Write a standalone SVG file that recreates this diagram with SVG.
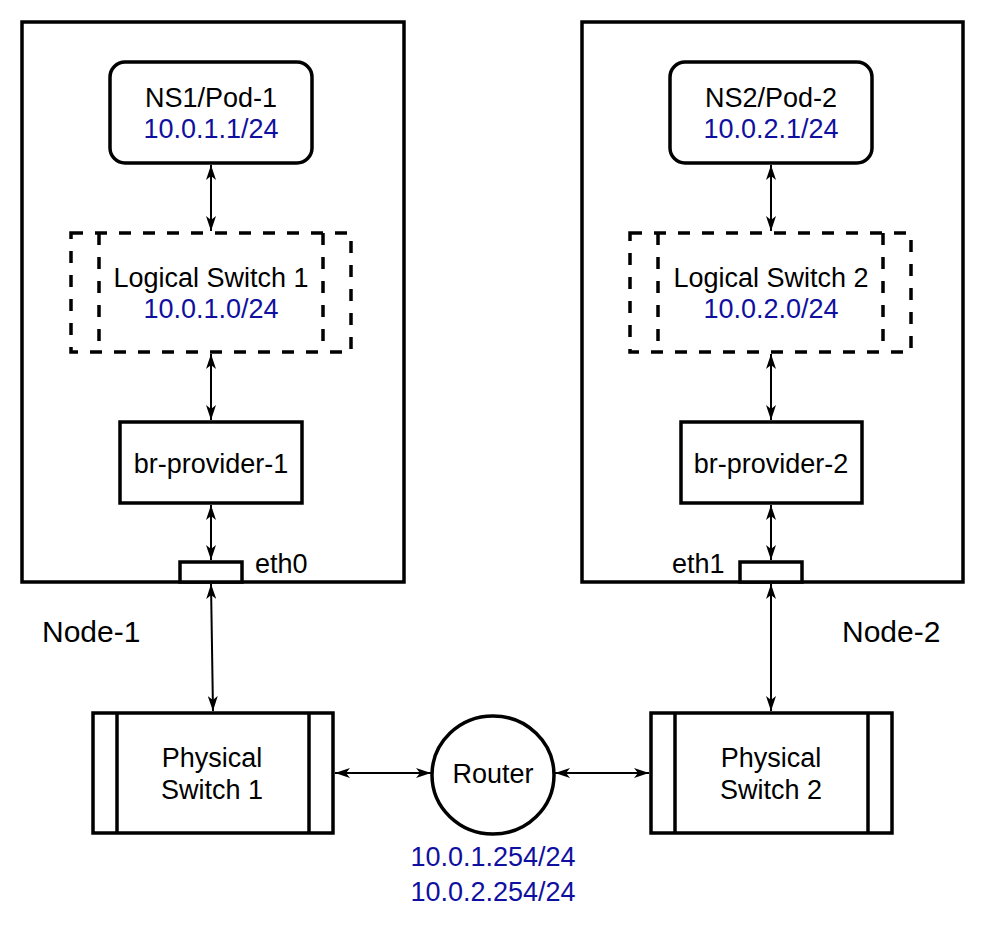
<svg xmlns="http://www.w3.org/2000/svg" width="984" height="934" viewBox="0 0 984 934">
<defs>
<style>
.box{fill:#fff;stroke:#000;stroke-width:3.5}
.frame{fill:none;stroke:#000;stroke-width:3.5}
.dash{fill:none;stroke:#000;stroke-width:3.5;stroke-dasharray:12 12}
.t{font-family:"Liberation Sans",Arial,Helvetica,sans-serif;font-size:27px;fill:#000;text-anchor:middle}
.ip{fill:#1010a0}
.lbl{font-family:"Liberation Sans",Arial,Helvetica,sans-serif;font-size:30px;fill:#000}
.eth{font-family:"Liberation Sans",Arial,Helvetica,sans-serif;font-size:27px;fill:#000}
.c{fill:none;stroke:#000;stroke-width:2;marker-start:url(#ah);marker-end:url(#ah)}
</style>
<marker id="ah" markerUnits="userSpaceOnUse" viewBox="0 0 15 10" refX="15" refY="5" markerWidth="15" markerHeight="10" orient="auto-start-reverse">
<path d="M0,0 L15,5 L0,10 L4,5 Z" fill="#000"/>
</marker>
</defs>

<g id="node-1">
<rect class="frame" x="22" y="22" width="382" height="560"/>
<text class="lbl" x="42" y="642">Node-1</text>
</g>
<g id="node-2">
<rect class="frame" x="582" y="22" width="381" height="560"/>
<text class="lbl" x="842" y="642">Node-2</text>
</g>

<g id="pod-1">
<rect class="box" x="110" y="62" width="202" height="101" rx="15"/>
<text class="t" x="211" y="107">NS1/Pod-1</text>
<text class="t ip" x="211" y="138">10.0.1.1/24</text>
</g>
<g id="pod-2">
<rect class="box" x="670" y="62" width="202" height="101" rx="15"/>
<text class="t" x="771" y="107">NS2/Pod-2</text>
<text class="t ip" x="771" y="138">10.0.2.1/24</text>
</g>

<g id="ls-1">
<rect class="dash" x="71" y="233" width="280" height="119"/>
<line class="dash" x1="99" y1="233" x2="99" y2="352"/>
<line class="dash" x1="323" y1="233" x2="323" y2="352"/>
<text class="t" x="211" y="287">Logical Switch 1</text>
<text class="t ip" x="211" y="318">10.0.1.0/24</text>
</g>
<g id="ls-2">
<rect class="dash" x="630" y="233" width="281" height="119"/>
<line class="dash" x1="658" y1="233" x2="658" y2="352"/>
<line class="dash" x1="883" y1="233" x2="883" y2="352"/>
<text class="t" x="771" y="287">Logical Switch 2</text>
<text class="t ip" x="771" y="318">10.0.2.0/24</text>
</g>

<g id="br-provider-1">
<rect class="box" x="120" y="422" width="182" height="81"/>
<text class="t" x="211" y="473">br-provider-1</text>
</g>
<g id="br-provider-2">
<rect class="box" x="681" y="422" width="181" height="81"/>
<text class="t" x="771" y="473">br-provider-2</text>
</g>

<g id="eth0">
<rect class="box" x="180" y="562" width="62" height="20"/>
<text class="eth" x="255" y="573">eth0</text>
</g>
<g id="eth1">
<rect class="box" x="740" y="562" width="62" height="20"/>
<text class="eth" x="672" y="573">eth1</text>
</g>

<g id="physical-switch-1">
<rect class="box" x="93" y="713" width="240" height="120"/>
<line class="frame" x1="117" y1="713" x2="117" y2="833"/>
<line class="frame" x1="309" y1="713" x2="309" y2="833"/>
<text class="t" x="212" y="767">Physical</text>
<text class="t" x="212" y="799">Switch 1</text>
</g>
<g id="physical-switch-2">
<rect class="box" x="651" y="713" width="241" height="120"/>
<line class="frame" x1="675" y1="713" x2="675" y2="833"/>
<line class="frame" x1="868" y1="713" x2="868" y2="833"/>
<text class="t" x="771" y="767">Physical</text>
<text class="t" x="771" y="799">Switch 2</text>
</g>

<g id="router">
<ellipse class="box" cx="493" cy="775" rx="61" ry="59"/>
<text class="t" x="493" y="783">Router</text>
<text class="t ip" x="493" y="866">10.0.1.254/24</text>
<text class="t ip" x="493" y="901">10.0.2.254/24</text>
</g>

<g id="connectors">
<line class="c" x1="211" y1="165" x2="211" y2="231"/>
<line class="c" x1="211" y1="354" x2="211" y2="420"/>
<line class="c" x1="211" y1="505" x2="211" y2="560"/>
<line class="c" x1="211" y1="584" x2="213" y2="711"/>
<line class="c" x1="771" y1="165" x2="771" y2="231"/>
<line class="c" x1="771" y1="354" x2="771" y2="420"/>
<line class="c" x1="771" y1="505" x2="771" y2="560"/>
<line class="c" x1="771" y1="584" x2="771" y2="711"/>
<line class="c" x1="335" y1="773" x2="431" y2="773"/>
<line class="c" x1="555" y1="773" x2="649" y2="773"/>
</g>
</svg>
